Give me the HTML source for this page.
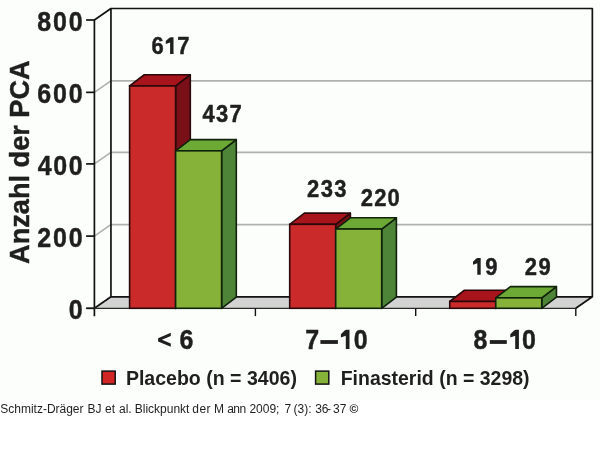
<!DOCTYPE html>
<html><head><meta charset="utf-8"><style>
html,body{margin:0;padding:0;background:#fff;}
body{width:600px;height:458px;overflow:hidden;position:relative;}
#bg{position:absolute;left:0;top:0;width:600px;height:400px;background:#fcfefb;}
svg{position:absolute;left:0;top:0;will-change:transform;}
</style></head><body>
<div id="bg"></div>
<svg width="600" height="458" viewBox="0 0 600 458">
<polygon points="94.40,308.30 575.80,308.30 592.35,296.80 110.95,296.80" fill="#d3d3d3"/><polyline points="94.40,236.10 110.95,224.60 592.35,224.60" fill="none" stroke="#afb2af" stroke-width="1.6"/><polyline points="94.40,163.90 110.95,152.40 592.35,152.40" fill="none" stroke="#afb2af" stroke-width="1.6"/><polyline points="94.40,92.35 110.95,80.85 592.35,80.85" fill="none" stroke="#afb2af" stroke-width="1.6"/><polyline points="94.40,316.30 94.40,20.00 110.95,8.50 592.35,8.50 592.35,296.80" fill="none" stroke="#121212" stroke-width="1.7" stroke-linejoin="round"/><line x1="110.95" y1="8.5" x2="110.95" y2="296.8" stroke="#121212" stroke-width="1.7"/><polyline points="94.40,308.30 110.95,296.80 592.35,296.80 575.80,308.30" fill="none" stroke="#121212" stroke-width="1.7" stroke-linejoin="round"/><line x1="86.4" y1="308.3" x2="575.8" y2="308.3" stroke="#2a2a2a" stroke-width="1.3"/><line x1="86.10000000000001" y1="308.3" x2="94.4" y2="308.3" stroke="#121212" stroke-width="1.7"/><line x1="86.10000000000001" y1="236.1" x2="94.4" y2="236.1" stroke="#121212" stroke-width="1.7"/><line x1="86.10000000000001" y1="163.9" x2="94.4" y2="163.9" stroke="#121212" stroke-width="1.7"/><line x1="86.10000000000001" y1="92.35" x2="94.4" y2="92.35" stroke="#121212" stroke-width="1.7"/><line x1="86.10000000000001" y1="20.0" x2="94.4" y2="20.0" stroke="#121212" stroke-width="1.7"/><line x1="255.4" y1="308.3" x2="255.4" y2="316.1" stroke="#121212" stroke-width="1.4"/><line x1="415.7" y1="308.3" x2="415.7" y2="316.1" stroke="#121212" stroke-width="1.4"/><line x1="575.8" y1="308.3" x2="575.8" y2="316.1" stroke="#121212" stroke-width="1.4"/><polygon points="175.60,308.30 175.60,85.95 190.30,74.75 190.30,297.10" fill="#7a1017" stroke="#2a080a" stroke-width="1.6" stroke-linejoin="round"/><polygon points="129.60,85.95 144.30,74.75 190.30,74.75 175.60,85.95" fill="#a8141c" stroke="#2a080a" stroke-width="1.6" stroke-linejoin="round"/><rect x="129.6" y="85.95" width="46.0" height="222.35" fill="#cb2a2a" stroke="#2a080a" stroke-width="1.6"/><polygon points="221.60,308.30 221.60,150.82 236.30,139.62 236.30,297.10" fill="#4e8438" stroke="#10220c" stroke-width="1.6" stroke-linejoin="round"/><polygon points="175.60,150.82 190.30,139.62 236.30,139.62 221.60,150.82" fill="#6caa35" stroke="#10220c" stroke-width="1.6" stroke-linejoin="round"/><rect x="175.6" y="150.82" width="46.0" height="157.48" fill="#87b23a" stroke="#10220c" stroke-width="1.6"/><polygon points="335.70,308.30 335.70,224.33 350.40,213.13 350.40,297.10" fill="#7a1017" stroke="#2a080a" stroke-width="1.6" stroke-linejoin="round"/><polygon points="289.70,224.33 304.40,213.13 350.40,213.13 335.70,224.33" fill="#a8141c" stroke="#2a080a" stroke-width="1.6" stroke-linejoin="round"/><rect x="289.7" y="224.33" width="46.0" height="83.97" fill="#cb2a2a" stroke="#2a080a" stroke-width="1.6"/><polygon points="381.70,308.30 381.70,229.02 396.40,217.82 396.40,297.10" fill="#4e8438" stroke="#10220c" stroke-width="1.6" stroke-linejoin="round"/><polygon points="335.70,229.02 350.40,217.82 396.40,217.82 381.70,229.02" fill="#6caa35" stroke="#10220c" stroke-width="1.6" stroke-linejoin="round"/><rect x="335.7" y="229.02" width="46.0" height="79.28" fill="#87b23a" stroke="#10220c" stroke-width="1.6"/><polygon points="495.75,308.30 495.75,301.45 510.45,290.25 510.45,297.10" fill="#7a1017" stroke="#2a080a" stroke-width="1.6" stroke-linejoin="round"/><polygon points="449.75,301.45 464.45,290.25 510.45,290.25 495.75,301.45" fill="#a8141c" stroke="#2a080a" stroke-width="1.6" stroke-linejoin="round"/><rect x="449.75" y="301.45" width="46.0" height="6.85" fill="#cb2a2a" stroke="#2a080a" stroke-width="1.6"/><polygon points="541.75,308.30 541.75,297.85 556.45,286.65 556.45,297.10" fill="#4e8438" stroke="#10220c" stroke-width="1.6" stroke-linejoin="round"/><polygon points="495.75,297.85 510.45,286.65 556.45,286.65 541.75,297.85" fill="#6caa35" stroke="#10220c" stroke-width="1.6" stroke-linejoin="round"/><rect x="495.75" y="297.85" width="46.0" height="10.45" fill="#87b23a" stroke="#10220c" stroke-width="1.6"/>
<rect x="102" y="371.1" width="13.2" height="13" fill="#d22626" stroke="#121212" stroke-width="1.5"/><rect x="315.6" y="371.1" width="13.2" height="13" fill="#87b23a" stroke="#121212" stroke-width="1.5"/>
<g font-family="Liberation Sans, sans-serif" font-weight="bold" fill="#1f1f1f" stroke="#1f1f1f" stroke-width="0.45" stroke-linejoin="round">
<text x="0" y="0" font-size="27.3" transform="translate(68.73,319.00) scale(0.915,1)">0</text><text x="0" y="0" font-size="27.3" letter-spacing="2.029" transform="translate(37.23,246.93) scale(0.915,1)">200</text><text x="0" y="0" font-size="27.3" letter-spacing="1.763" transform="translate(37.72,174.85) scale(0.915,1)">400</text><text x="0" y="0" font-size="27.3" letter-spacing="2.056" transform="translate(37.19,102.78) scale(0.915,1)">600</text><text x="0" y="0" font-size="27.3" letter-spacing="1.989" transform="translate(37.31,30.70) scale(0.915,1)">800</text><text x="0" y="0" font-size="27.3" transform="translate(28.80,263.98) rotate(-90) scale(0.995,1)">Anzahl der PCA</text><text x="0" y="0" font-size="24.7" transform="translate(151.39,54.00) scale(0.890,1)">6</text><polygon points="173.50,37.20 173.50,54.10 170.10,54.10 170.10,42.44 165.79,43.96 165.79,41.09 169.09,37.88 170.61,37.20" stroke="none"/><text x="0" y="0" font-size="24.7" transform="translate(177.26,54.00) scale(0.890,1)">7</text><text x="0" y="0" font-size="24.7" letter-spacing="1.416" transform="translate(202.57,121.80) scale(0.890,1)">437</text><text x="0" y="0" font-size="24.7" letter-spacing="1.561" transform="translate(307.04,197.30) scale(0.890,1)">233</text><text x="0" y="0" font-size="24.7" letter-spacing="1.340" transform="translate(360.74,205.60) scale(0.890,1)">220</text><polygon points="480.70,257.90 480.70,274.80 477.30,274.80 477.30,263.14 472.99,264.66 472.99,261.79 476.29,258.58 477.81,257.90" stroke="none"/><text x="0" y="0" font-size="24.7" transform="translate(485.24,274.70) scale(0.890,1)">9</text><text x="0" y="0" font-size="24.7" letter-spacing="1.827" transform="translate(524.64,274.70) scale(0.890,1)">29</text><polygon points="158.10,338.30 170.80,332.70 170.80,335.90 161.90,339.85 170.80,343.60 170.80,346.70 158.10,341.50" stroke="none"/><text x="0" y="0" font-size="27.3" transform="translate(179.59,349.00) scale(0.915,1)">6</text><text x="0" y="0" font-size="27.3" transform="translate(305.33,349.00) scale(0.915,1)">7</text><rect x="320.4" y="340.1" width="17.5" height="3.8" stroke="none"/><polygon points="349.50,329.80 349.50,349.00 345.80,349.00 345.80,335.75 340.90,337.48 340.90,334.22 344.65,330.57 346.38,329.80" stroke="none"/><text x="0" y="0" font-size="27.3" transform="translate(353.71,349.00) scale(0.915,1)">0</text><text x="0" y="0" font-size="27.3" transform="translate(473.61,349.00) scale(0.915,1)">8</text><rect x="489.8" y="340.1" width="17.0" height="3.8" stroke="none"/><polygon points="518.90,329.80 518.90,349.00 515.20,349.00 515.20,335.75 510.30,337.48 510.30,334.22 514.05,330.57 515.78,329.80" stroke="none"/><text x="0" y="0" font-size="27.3" transform="translate(522.01,349.00) scale(0.915,1)">0</text><g stroke="none"><text x="0" y="0" font-size="20" transform="translate(125.89,384.60) scale(0.977,1)">Placebo (n = 3406)</text><text x="0" y="0" font-size="20" transform="translate(340.70,384.60) scale(0.974,1)">Finasterid (n = 3298)</text></g>
</g>
<g font-family="Liberation Sans, sans-serif" font-size="12" fill="#1f1f1f">
<text x="0" y="0" font-size="12" letter-spacing="-0.016" transform="translate(0.36,413.00)">Schmitz-Dräger</text><text x="0" y="0" font-size="12" letter-spacing="-0.129" transform="translate(87.52,413.00)">BJ</text><text x="0" y="0" font-size="12" letter-spacing="0.090" transform="translate(104.99,413.00)">et</text><text x="0" y="0" font-size="12" transform="translate(118.99,413.00)">al.</text><text x="0" y="0" font-size="12" letter-spacing="-0.002" transform="translate(134.72,413.00)">Blickpunkt</text><text x="0" y="0" font-size="12" letter-spacing="0.430" transform="translate(192.30,413.00)">der</text><text x="0" y="0" font-size="12" transform="translate(214.02,413.00)">M</text><text x="0" y="0" font-size="12" letter-spacing="-0.616" transform="translate(227.29,413.00)">ann</text>
<text x="249.4" y="413">2009;</text><text x="284.5" y="413">7</text>
<text x="293.6" y="413">(3):</text><text x="315.2" y="413">36</text><text x="327" y="413">-</text>
<text x="333" y="413">37</text><text x="349.6" y="413" font-weight="bold">©</text>
</g>
</svg>
</body></html>
